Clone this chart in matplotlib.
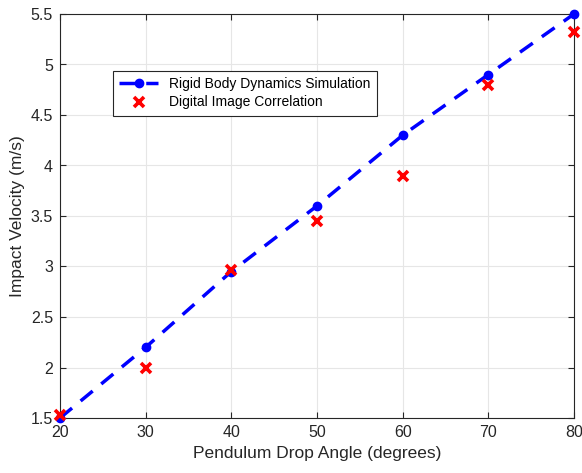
import numpy as np
import matplotlib.pyplot as plt

# Drop angles and measured / simulated impact velocities
angles = [20, 30, 40, 50, 60, 70, 80]
sim_velocity = [1.50, 2.20, 2.95, 3.60, 4.30, 4.90, 5.50]
dic_velocity = [1.53, 2.00, 2.97, 3.45, 3.90, 4.80, 5.32]

plt.rcParams['font.family'] = ['Liberation Sans', 'DejaVu Sans']

fig = plt.figure(figsize=(5.82, 4.73), dpi=100)
ax = fig.add_axes([60 / 582, 1 - 418 / 473, 514 / 582, 404 / 473])

ax.plot(angles, sim_velocity, 'b--o', linewidth=2.5, markersize=6,
        dashes=(4.5, 3.2), label='Rigid Body Dynamics Simulation',
        zorder=3, clip_on=False)
ax.plot(angles, dic_velocity, 'rx', markersize=6.5, markeredgewidth=2.6,
        label='Digital Image Correlation', zorder=4, clip_on=False)

ax.set_xlim(20, 80)
ax.set_ylim(1.5, 5.5)
ax.set_xticks(np.arange(20, 81, 10))
ax.set_yticks(np.arange(1.5, 5.51, 0.5))
ax.set_yticklabels(['1.5', '2', '2.5', '3', '3.5', '4', '4.5', '5', '5.5'])

ax.grid(True, color='#e6e6e6', linewidth=0.8)
ax.set_axisbelow(True)
for s in ax.spines.values():
    s.set_color('#262626')
    s.set_linewidth(0.8)
ax.tick_params(direction='in', top=True, right=True, length=4,
               color='#262626', labelcolor='#262626', labelsize=11.5, pad=5)

ax.set_xlabel('Pendulum Drop Angle (degrees)', fontsize=12.5, color='#262626')
ax.set_ylabel('Impact Velocity (m/s)', fontsize=12.5, color='#262626')

leg = ax.legend(loc='upper left', bbox_to_anchor=(0.103, 0.859), fontsize=10,
                fancybox=False, edgecolor='#262626', framealpha=1,
                handlelength=2.8, borderpad=0.45, labelspacing=0.3,
                borderaxespad=0)
leg.get_frame().set_linewidth(0.8)

fig.savefig('out.png', dpi=100)
